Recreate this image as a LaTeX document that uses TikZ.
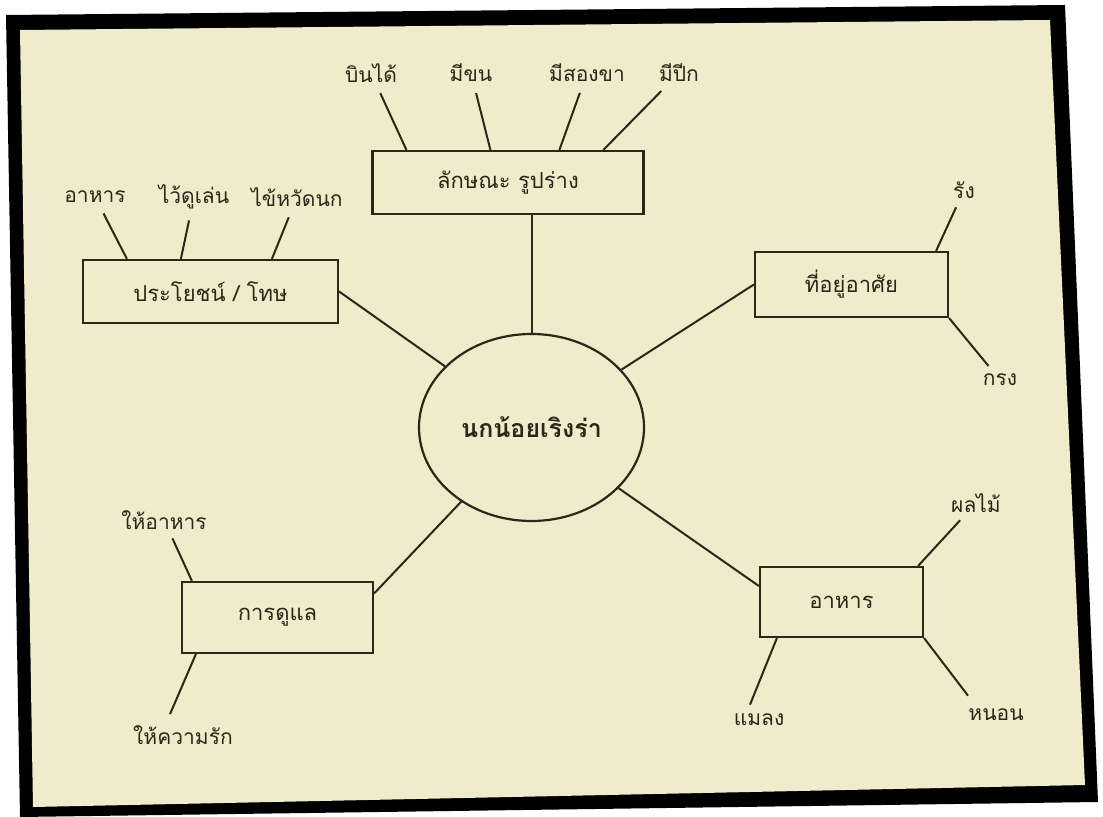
\documentclass[tikz,border=0pt]{standalone}
\usepackage{fontspec}
\setmainfont[Script=Thai]{Loma}
\usetikzlibrary{calc,shapes.geometric}
\definecolor{paper}{RGB}{240,235,203}
\definecolor{ink}{RGB}{45,38,25}
\begin{document}
\begin{tikzpicture}[x=0.5pt,y=-0.5pt,
  box/.style={draw=ink, line width=1.1pt, rectangle, inner sep=0pt, font=\fontsize{11}{13}\selectfont, text=ink},
  hub/.style={draw=ink, line width=1.1pt, ellipse, inner sep=0pt, minimum width=112.5pt, minimum height=93.5pt, font=\fontsize{12.5}{14}\selectfont\bfseries, text=ink},
  lbl/.style={inner sep=1.5pt, font=\fontsize{10.5}{12}\selectfont, text=ink},
  link/.style={draw=ink, line width=1pt},
  gap/.style={shorten <=4pt}]
\useasboundingbox (0,0) rectangle (1103,817);
\fill[white] (0,0) rectangle (1103,817);
\fill[black] (6,15) -- (1065,5) -- (1098,802) -- (20,817) -- cycle;
\fill[paper] (20,30) -- (1050,20) -- (1085,785) -- (33,807) -- cycle;

% hub
\node[hub] (ell) at (531.5,427.5) {นกน้อยเริงร่า};

% boxes
\node[box, minimum width=135.5pt, minimum height=31.5pt] (b1) at (508,182.5) {ลักษณะ รูปร่าง};
\node[box, minimum width=127.5pt, minimum height=31.5pt] (b2) at (210.5,291.5) {ประโยชน์ / โทษ};
\node[box, minimum width=96.5pt, minimum height=32.5pt] (b3) at (851.5,284.5) {ที่อยู่อาศัย};
\node[box, minimum width=95.5pt, minimum height=35.5pt] (b4) at (277.5,617.5) {การดูแล};
\node[box, minimum width=81.5pt, minimum height=35pt] (b5) at (841.5,602) {อาหาร};

% labels
\node[lbl] (l1) at (371,73) {บินได้};
\node[lbl] (l2) at (471,73) {มีขน};
\node[lbl] (l3) at (587,73) {มีสองขา};
\node[lbl] (l4) at (679,73) {มีปีก};
\node[lbl] (l5) at (95,197) {อาหาร};
\node[lbl] (l6) at (194,197) {ไว้ดูเล่น};
\node[lbl] (l7) at (297,197) {ไข้หวัดนก};
\node[lbl] (l8) at (964,190) {รัง};
\node[lbl] (l9) at (1000,380) {กรง};
\node[lbl] (l10) at (164,520) {ให้อาหาร};
\node[lbl] (l11) at (183,735) {ให้ความรัก};
\node[lbl] (l12) at (976,503) {ผลไม้};
\node[lbl] (l13) at (759,720) {แมลง};
\node[lbl] (l14) at (996,715) {หนอน};

% hub links
\draw[link] (ell.north) -- (ell.north |- b1.south);
\draw[link] (b2.east) -- (ell);
\draw[link] (b3.west) -- (ell);
\draw[link] ([yshift=12pt]b4.east) -- (ell);
\draw[link] ([yshift=8pt]b5.west) -- (ell);

% label links
\draw[link,gap] (l1) -- ($(b1.north west)+(35,0)$);
\draw[link,gap] (l2) -- ($(b1.north west)+(119,0)$);
\draw[link,gap] (l3) -- ($(b1.north west)+(188,0)$);
\draw[link,gap] (l4) -- ($(b1.north west)+(232,0)$);
\draw[link,gap] (l5) -- ($(b2.north west)+(45,0)$);
\draw[link,gap] (l6) -- ($(b2.north west)+(99,0)$);
\draw[link,gap] (l7) -- ($(b2.north west)+(190,0)$);
\draw[link,shorten <=3pt] (l8) -- ($(b3.north east)+(-13,0)$);
\draw[link,shorten >=3pt] (b3.south east) -- (l9);
\draw[link,shorten <=3pt] (l10) -- ($(b4.north west)+(11,0)$);
\draw[link] ($(b4.south west)+(15,0)$) -- ($(l11.north)+(-13,-8)$);
\draw[link,shorten <=3pt] (l12) -- ($(b5.north east)+(-6,0)$);
\draw[link] ($(b5.south west)+(18,0)$) -- ($(l13.north)+(-9,-6)$);
\draw[link] (b5.south east) -- ($(l14.north)+(-28,-10)$);
\end{tikzpicture}
\end{document}
